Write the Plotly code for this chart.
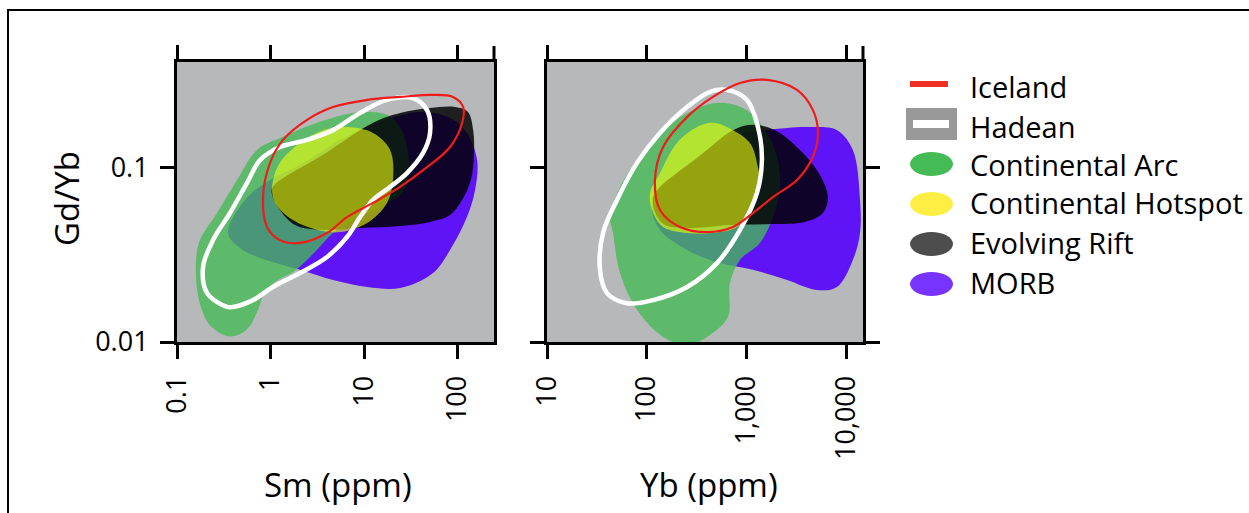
import plotly.graph_objects as go

W, H = 1249, 513
FONT = "Open Sans"

# ---------------- Sm (ppm) vs Gd/Yb field outlines ----------------
arc_sm = [0.351, 0.225, 0.172, 0.160, 0.176, 0.268, 0.439, 0.718, 1.36, 3.14, 9.06, 17.6, 24.3, 29.6,
          29.6, 24.3, 14.8, 8.01, 4.66, 2.99, 1.74, 1.20, 0.873, 0.734, 0.604, 0.472]
arc_gdyb = [0.0108, 0.0125, 0.0174, 0.0296, 0.0385, 0.0551, 0.0853, 0.127, 0.151, 0.182, 0.210, 0.202, 0.172, 0.122,
            0.0853, 0.0700, 0.0597, 0.0502, 0.0423, 0.0329, 0.0252, 0.0227, 0.0194, 0.0153, 0.0124, 0.0111]

morb_sm = [0.351, 0.533, 0.989, 2.07, 5.54, 14.8, 39.7, 83.2, 126, 162, 154, 126, 83.2, 54.7, 24.3, 10.8,
           4.66, 2.07, 0.773, 0.472]
morb_gdyb = [0.0423, 0.0655, 0.0853, 0.104, 0.145, 0.184, 0.210, 0.194, 0.159, 0.111, 0.0748, 0.0522, 0.0338,
             0.0249, 0.0204, 0.0207, 0.0227, 0.0260, 0.0304, 0.0347]

rift_sm = [1.06, 3.64, 12.5, 24.3, 50.8, 94.0, 129, 147, 150, 139, 112, 83.2, 50.8, 24.3, 9.06, 3.38, 1.83, 1.26, 1.04]
rift_gdyb = [0.0778, 0.119, 0.182, 0.207, 0.221, 0.224, 0.210, 0.165, 0.119, 0.0853, 0.0655, 0.0537, 0.0490,
             0.0464, 0.0452, 0.0441, 0.0470, 0.0574, 0.0700]

hot_sm = [6.58, 12.5, 19.0, 20.4, 17.6, 10.8, 5.54, 3.14, 1.74, 1.12, 1.04, 1.26, 2.07, 3.64]
hot_gdyb = [0.172, 0.159, 0.127, 0.0853, 0.0630, 0.0483, 0.0428, 0.0441, 0.0502, 0.0630, 0.0778, 0.107, 0.139, 0.165]

ice_sm = [0.832, 0.918, 1.26, 2.07, 4.02, 6.58, 12.5, 24.3, 47.2, 83.2, 112, 115, 89.5, 54.7, 24.3, 10.8,
          4.66, 2.46, 1.36, 0.989]
ice_gdyb = [0.0681, 0.0458, 0.0385, 0.0371, 0.0423, 0.0522, 0.0630, 0.0778, 0.101, 0.132, 0.182, 0.224, 0.256,
            0.263, 0.256, 0.246, 0.224, 0.189, 0.145, 0.107]

had_sm = [0.343, 0.210, 0.190, 0.243, 0.369, 0.561, 0.773, 1.26, 2.46, 4.66, 9.06, 17.6, 33.4, 47.2, 50.8,
          42.8, 28.8, 19.0, 12.5, 9.06, 6.58, 4.02, 2.07, 1.06, 0.650, 0.397]
had_gdyb = [0.0159, 0.0191, 0.0270, 0.0385, 0.0551, 0.0820, 0.111, 0.132, 0.145, 0.165, 0.207, 0.246, 0.252,
            0.215, 0.159, 0.122, 0.0935, 0.0778, 0.0655, 0.0522, 0.0401, 0.0308, 0.0249, 0.0207, 0.0174, 0.0159]

# ---------------- Yb (ppm) vs Gd/Yb field outlines ----------------
arc_yb = [42.9, 54.0, 85.7, 160, 291, 543, 1014, 1611, 2028, 2173, 1849, 1368, 863, 684, 653, 403, 254, 146,
          80.0, 54.0, 45.9]
arc_gdyb2 = [0.0522, 0.0778, 0.116, 0.172, 0.215, 0.237, 0.215, 0.159, 0.116, 0.0778, 0.0522, 0.0371, 0.0296,
             0.0218, 0.0139, 0.0107, 0.0096, 0.0107, 0.0153, 0.0249, 0.0423]

morb_yb = [113, 153, 343, 863, 2553, 4345, 8110, 11700, 13800, 13800, 11700, 8110, 5105, 2553, 1164, 543, 254, 136]
morb_gdyb2 = [0.0597, 0.0798, 0.119, 0.155, 0.170, 0.172, 0.165, 0.127, 0.0655, 0.0423, 0.0296, 0.0207, 0.0199,
              0.0227, 0.0260, 0.0284, 0.0338, 0.0441]

rift_yb = [116, 136, 320, 734, 1164, 1936, 3451, 5470, 6577, 5861, 3873, 1726, 684, 272, 153, 121]
rift_gdyb2 = [0.0681, 0.0778, 0.114, 0.165, 0.177, 0.165, 0.127, 0.0912, 0.0681, 0.0551, 0.0490, 0.0476,
              0.0470, 0.0452, 0.0470, 0.0558]

hot_yb = [108, 136, 201, 320, 462, 734, 1087, 1306, 1368, 1164, 805, 462, 254, 146, 113]
hot_gdyb2 = [0.0718, 0.0935, 0.139, 0.172, 0.182, 0.165, 0.139, 0.101, 0.0778, 0.0597, 0.0458, 0.0423, 0.0423,
             0.0458, 0.0574]

ice_yb = [1611, 3221, 4656, 5224, 4656, 3221, 1849, 1164, 734, 403, 216, 136, 121, 146, 254, 462, 863]
ice_gdyb2 = [0.321, 0.281, 0.215, 0.159, 0.116, 0.0853, 0.0681, 0.0551, 0.0458, 0.0428, 0.0458, 0.0574, 0.0853,
             0.132, 0.196, 0.256, 0.308]

had_yb = [638, 1014, 1306, 1432, 1276, 863, 507, 254, 116, 63.4, 40.0, 34.0, 36.5, 50.4, 80.0, 136, 254, 431]
had_gdyb2 = [0.281, 0.246, 0.172, 0.111, 0.0718, 0.0441, 0.0284, 0.0207, 0.0174, 0.0167, 0.0191, 0.0260,
             0.0423, 0.0655, 0.107, 0.159, 0.224, 0.274]

# ---------------- axis ticks ----------------
sm_ticks = [0.1, 1, 10, 100]
sm_labels = ["0.1", "1", "10", "100"]
yb_ticks = [10, 100, 1000, 10000]
yb_labels = ["10", "100", "1,000", "10,000"]
ratio_ticks = [0.01, 0.1]
ratio_labels = ["0.01", "0.1"]

# ---------------- legend ----------------
legend_names = ["Iceland", "Hadean", "Continental Arc", "Continental Hotspot", "Evolving Rift", "MORB"]
legend_colors = ["#EE3124", "#999999", "#44BB55", "#FFEE44", "#4D4D4D", "#7733FF"]

# plot colours
C_MORB = "#5E14F6"
C_ARC = "rgba(68,187,85,0.78)"
C_RIFT = "rgba(0,0,0,0.83)"
C_HOT = "rgba(240,255,10,0.6)"
C_ICE = "#EE1C1C"
C_HAD = "#FFFFFF"


def closed(xs, ys):
    return list(xs) + [xs[0]], list(ys) + [ys[0]]


def field(xs, ys, color, xa, ya):
    cx, cy = closed(xs, ys)
    return go.Scatter(x=cx, y=cy, mode="lines", fill="toself", fillcolor=color,
                      line=dict(width=0, shape="spline", smoothing=1.0, color=color),
                      hoverinfo="skip", showlegend=False, xaxis=xa, yaxis=ya)


def outline(xs, ys, color, width, xa, ya):
    cx, cy = closed(xs, ys)
    return go.Scatter(x=cx, y=cy, mode="lines",
                      line=dict(width=width, shape="spline", smoothing=1.0, color=color),
                      hoverinfo="skip", showlegend=False, xaxis=xa, yaxis=ya)


fig = go.Figure()
panels = [
    ("x", "y", morb_sm, morb_gdyb, arc_sm, arc_gdyb, rift_sm, rift_gdyb, hot_sm, hot_gdyb,
     had_sm, had_gdyb, ice_sm, ice_gdyb),
    ("x2", "y2", morb_yb, morb_gdyb2, arc_yb, arc_gdyb2, rift_yb, rift_gdyb2, hot_yb, hot_gdyb2,
     had_yb, had_gdyb2, ice_yb, ice_gdyb2),
]
for xa, ya, mx, my, ax, ay, rx, ry, hx, hy, wx, wy, ix, iy in panels:
    fig.add_trace(field(mx, my, C_MORB, xa, ya))
    fig.add_trace(field(ax, ay, C_ARC, xa, ya))
    fig.add_trace(field(rx, ry, C_RIFT, xa, ya))
    fig.add_trace(field(hx, hy, C_HOT, xa, ya))
    fig.add_trace(outline(wx, wy, C_HAD, 4.5, xa, ya))
    fig.add_trace(outline(ix, iy, C_ICE, 2.2, xa, ya))


def px(v):
    return v / W


def py(v):
    return 1 - v / H


P1 = (177, 494)
P2 = (547, 863)
PY = (62, 342)

common = dict(showline=True, linecolor="black", linewidth=3, ticks="outside", ticklen=14, tickwidth=3,
              tickcolor="black", showgrid=False, zeroline=False, fixedrange=True, automargin=False,
              tickfont=dict(family=FONT, size=27, color="black"))

fig.update_layout(
    width=W, height=H,
    margin=dict(l=0, r=0, t=0, b=0, autoexpand=False),
    paper_bgcolor="white", plot_bgcolor="#B7B8BA",
    showlegend=False,
    font=dict(family=FONT, color="black"),
    xaxis=dict(domain=[px(P1[0]), px(P1[1])], anchor="y", type="log", range=[-1, 2.39],
               tickvals=sm_ticks, ticktext=sm_labels, tickangle=-90, mirror="allticks",
               ticklabelstandoff=6, **common),
    yaxis=dict(domain=[py(PY[1]), py(PY[0])], anchor="x", type="log", range=[-2, -0.391],
               tickvals=ratio_ticks, ticktext=ratio_labels, mirror=True, ticklabelstandoff=6, **common),
    xaxis2=dict(domain=[px(P2[0]), px(P2[1])], anchor="y2", type="log", range=[1, 4.17],
                tickvals=yb_ticks, ticktext=yb_labels, tickangle=-90, mirror="allticks",
                ticklabelstandoff=6, **common),
    yaxis2=dict(domain=[py(PY[1]), py(PY[0])], anchor="x2", type="log", range=[-2, -0.391],
                tickvals=ratio_ticks, showticklabels=False, mirror="allticks", **common),
)

shapes = []
# outer frame
shapes.append(dict(type="rect", xref="paper", yref="paper", x0=px(8), x1=1.05, y0=-0.05, y1=py(10),
                   line=dict(color="black", width=2), fillcolor="rgba(0,0,0,0)", layer="above"))
# axis line stubs above the top-right corners
for xr in (P1[1], P2[1]):
    shapes.append(dict(type="line", xref="paper", yref="paper", x0=px(xr), x1=px(xr), y0=py(PY[0]),
                       y1=py(PY[0] - 16), line=dict(color="black", width=3)))

# legend symbols
leg_y = [84, 124, 164, 204, 244, 284]
sx0, sx1 = 910, 953
shapes.append(dict(type="rect", xref="paper", yref="paper", x0=px(910), x1=px(948), y0=py(leg_y[0] - 3),
                   y1=py(leg_y[0] + 3), line=dict(width=0), fillcolor=legend_colors[0]))
shapes.append(dict(type="rect", xref="paper", yref="paper", x0=px(906), x1=px(957), y0=py(leg_y[1] + 16),
                   y1=py(leg_y[1] - 16), line=dict(width=0), fillcolor=legend_colors[1]))
shapes.append(dict(type="rect", xref="paper", yref="paper", x0=px(913), x1=px(949), y0=py(leg_y[1] + 4),
                   y1=py(leg_y[1] - 4), line=dict(width=0), fillcolor="white"))
for yc, col in zip(leg_y[2:], legend_colors[2:]):
    shapes.append(dict(type="circle", xref="paper", yref="paper", x0=px(sx0), x1=px(sx1), y0=py(yc + 12),
                       y1=py(yc - 12), line=dict(width=0), fillcolor=col))

annotations = []
for name, yc in zip(legend_names, [86, 126, 164, 203, 242, 282]):
    annotations.append(dict(text=name, xref="paper", yref="paper", x=px(968), y=py(yc), xanchor="left",
                            yanchor="middle", showarrow=False, font=dict(family=FONT, size=29, color="black")))

# axis titles
annotations.append(dict(text="Sm (ppm)", xref="paper", yref="paper", x=px(338), y=py(484), xanchor="center",
                        yanchor="middle", showarrow=False, font=dict(family=FONT, size=33, color="black")))
annotations.append(dict(text="Yb (ppm)", xref="paper", yref="paper", x=px(709), y=py(484), xanchor="center",
                        yanchor="middle", showarrow=False, font=dict(family=FONT, size=33, color="black")))
annotations.append(dict(text="Gd/Yb", xref="paper", yref="paper", x=px(67), y=py(199), xanchor="center",
                        yanchor="middle", textangle=-90, showarrow=False,
                        font=dict(family=FONT, size=33, color="black")))

fig.update_layout(shapes=shapes, annotations=annotations)

fig.write_html("out.html")
